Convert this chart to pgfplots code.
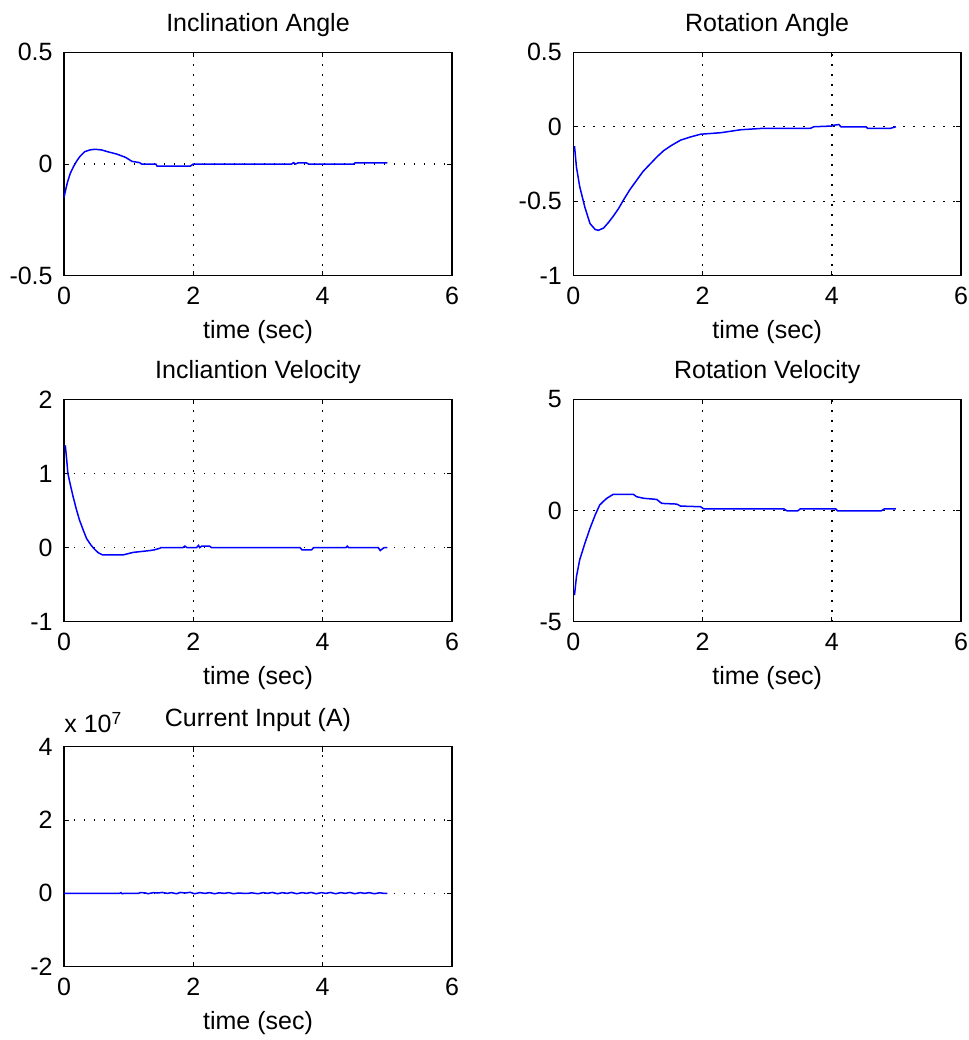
\documentclass[border=0pt]{standalone}
\usepackage{fontspec}
\setmainfont{Liberation Sans}
\usepackage{pgfplots}
\pgfplotsset{compat=1.18}

% 1 px of the reference = 0.5pt
\pgfplotsset{
  mlab/.style={
    scale only axis,
    width=194pt,
    xmin=0, xmax=6, xtick={0,2,4,6},
    grid=major,
    major grid style={black, line width=0.65pt, dash pattern=on 0.65pt off 4.35pt},
    axis line style={black, line width=0.7pt},
    tick style={black, line width=0.5pt},
    tick align=inside,
    major tick length=2.5pt,
    /pgf/number format/assume math mode=true,
    ticklabel style={font=\fontsize{12.5}{15}\selectfont},
    label style={font=\fontsize{12.5}{15}\selectfont},
    title style={font=\fontsize{12.5}{15}\selectfont, at={(axis description cs:0.5,1)}, anchor=base, yshift=4.25pt},
    xticklabel style={anchor=base, inner sep=0pt, yshift=-14.5pt},
    yticklabel style={anchor=east, inner sep=0pt, xshift=-5.5pt},
    xlabel style={at={(axis description cs:0.5,0)}, anchor=base, yshift=-31.5pt},
    xlabel={time (sec)},
    clip=false,
  },
  sig/.style={blue, line width=0.75pt, no marks},
}

\begin{document}
\begin{tikzpicture}
% Inclination Angle
\begin{axis}[mlab, at={(32pt,-26.15pt)}, anchor=north west, height=111.7pt,
  ymin=-0.5, ymax=0.5, ytick={-0.5,0,0.5}, title={Inclination Angle}]
\addplot[sig] coordinates {
(0.0,-0.15) (0.03,-0.11) (0.06,-0.075) (0.1,-0.04) (0.15,-0.01) (0.2,0.015)
(0.25,0.035) (0.32,0.055) (0.4,0.063) (0.48,0.066) (0.58,0.063) (0.7,0.053)
(0.81,0.045) (0.95,0.03) (1.05,0.012) (1.17,0.006) (1.2,0.0) (1.42,0.0)
(1.44,-0.01) (1.95,-0.01) (2.0,0.0) (3.52,0.0) (3.55,0.006) (3.58,0.0)
(3.62,0.005) (3.75,0.005) (3.78,0.0) (4.48,0.0) (4.5,0.005) (5.0,0.005)
};
\end{axis}
% Rotation Angle
\begin{axis}[mlab, at={(286.6pt,-26.15pt)}, anchor=north west, height=111.7pt,
  ymin=-1, ymax=0.5, ytick={-1,-0.5,0,0.5}, title={Rotation Angle}]
\addplot[sig] coordinates {
(0.02,-0.13) (0.05,-0.27) (0.1,-0.40) (0.18,-0.54) (0.26,-0.65) (0.34,-0.69)
(0.39,-0.695) (0.47,-0.68) (0.55,-0.64) (0.62,-0.60) (0.7,-0.55) (0.78,-0.49)
(0.88,-0.42) (0.98,-0.36) (1.08,-0.30) (1.19,-0.25) (1.3,-0.20) (1.40,-0.16)
(1.52,-0.125) (1.66,-0.09) (1.8,-0.07) (1.97,-0.05) (2.28,-0.04) (2.59,-0.02)
(2.95,-0.01) (3.67,-0.01) (3.72,0.0) (4.0,0.005) (4.02,0.01) (4.11,0.015)
(4.14,0.0) (4.53,0.0) (4.55,-0.01) (4.91,-0.01) (4.99,0.0)
};
\end{axis}
% Incliantion Velocity
\begin{axis}[mlab, at={(32pt,-199.65pt)}, anchor=north west, height=111.2pt,
  ymin=-1, ymax=2, ytick={-1,0,1,2}, title={Incliantion Velocity}]
\addplot[sig] coordinates {
(0.02,1.38) (0.04,1.2) (0.06,1.0) (0.1,0.84) (0.14,0.69) (0.19,0.52)
(0.24,0.37) (0.3,0.23) (0.35,0.12) (0.42,0.03) (0.47,-0.02) (0.53,-0.07)
(0.6,-0.1) (0.91,-0.1) (1.0,-0.08) (1.07,-0.065) (1.33,-0.04) (1.40,-0.03)
(1.48,-0.01) (1.5,0.0) (1.84,0.0) (1.87,0.02) (1.9,0.0) (2.05,0.0)
(2.08,0.03) (2.1,0.0) (2.13,0.02) (2.25,0.02) (2.28,0.0) (3.65,0.0)
(3.68,-0.03) (3.83,-0.03) (3.86,0.0) (4.36,0.0) (4.38,0.02) (4.4,0.0)
(4.86,0.0) (4.89,-0.04) (4.92,-0.02) (4.95,0.0) (5.0,0.0)
};
\end{axis}
% Rotation Velocity
\begin{axis}[mlab, at={(286.6pt,-199.65pt)}, anchor=north west, height=111.2pt,
  ymin=-5, ymax=5, ytick={-5,0,5}, title={Rotation Velocity}]
\addplot[sig] coordinates {
(0.02,-3.8) (0.05,-2.98) (0.1,-2.22) (0.18,-1.48) (0.26,-0.80) (0.34,-0.2)
(0.41,0.25) (0.47,0.42) (0.52,0.55) (0.62,0.73) (0.93,0.73) (0.98,0.62)
(1.09,0.55) (1.29,0.5) (1.37,0.32) (1.60,0.29) (1.66,0.2) (1.97,0.17)
(2.02,0.07) (3.26,0.07) (3.31,-0.02) (3.47,-0.02) (3.51,0.07) (4.06,0.07)
(4.09,-0.02) (4.76,-0.02) (4.81,0.07) (4.99,0.07)
};
\end{axis}
% Current Input (values in units of 10^7)
\begin{axis}[mlab, at={(32pt,-373.35pt)}, anchor=north west, height=110pt,
  ymin=-2, ymax=4, ytick={-2,0,2,4}, title={Current Input (A)}]
\addplot[sig] coordinates {
(0.0,0.0) (0.86,0.0) (0.88,0.02) (0.9,-0.01) (0.93,0.0) (1.15,0.0)
(1.18,0.02) (1.25,0.015) (1.3,-0.01) (1.38,0.02) (1.45,0.01) (1.52,0.025)
(1.6,0.0) (1.66,0.02) (1.74,-0.01) (1.8,0.025) (1.88,0.01) (1.95,0.03)
(2.02,-0.01) (2.1,0.02) (2.18,0.0) (2.25,0.02) (2.33,-0.01) (2.4,0.015)
(2.48,0.0) (2.55,0.02) (2.62,-0.01) (2.7,0.01) (2.78,0.0) (2.85,0.0)
(2.9,0.015) (3.0,-0.01) (3.08,0.02) (3.15,0.0) (3.22,0.025) (3.3,-0.01)
(3.38,0.02) (3.45,0.0) (3.52,0.025) (3.6,-0.01) (3.68,0.02) (3.75,0.0)
(3.82,0.025) (3.9,-0.01) (3.98,0.02) (4.05,0.0) (4.12,0.025) (4.2,-0.01)
(4.28,0.02) (4.35,0.0) (4.42,0.025) (4.5,-0.01) (4.58,0.02) (4.65,0.0)
(4.72,0.02) (4.8,-0.01) (4.88,0.015) (4.95,0.0) (5.0,0.0)
};
\node[anchor=base west, inner sep=0pt, font=\fontsize{12.5}{15}\selectfont]
  at (axis description cs:0,1) [yshift=7pt] {x 10\textsuperscript{7}};
\end{axis}
\pgfresetboundingbox
\path[use as bounding box] (0,0) rectangle (484.5pt,-520pt);
\end{tikzpicture}
\end{document}
